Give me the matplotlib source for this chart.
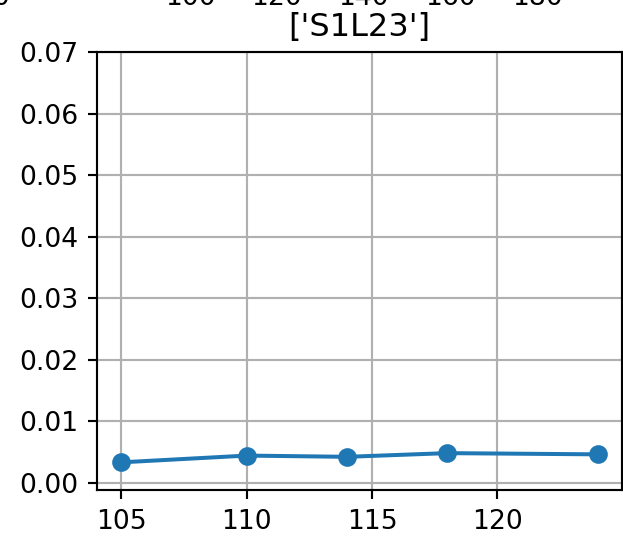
import matplotlib
matplotlib.use('Agg')
import matplotlib.pyplot as plt

# values
x_vals = [105, 110, 114, 118, 124]
y_vals = [0.0033, 0.0044, 0.0042, 0.0048, 0.0046]
title = "['S1L23']"

# cut-off tick labels of the neighbouring subplot above
top_ticks = [100, 120, 140, 160, 180]

dpi = 192
fig = plt.figure(figsize=(623 / dpi, 537 / dpi), dpi=dpi)

ax = fig.add_axes([0.1562, 0.0875, 0.8417, 0.8151])
ax.plot(x_vals, y_vals, marker='o')
ax.set_title(title)
ax.set_ylim(-0.0012, 0.07)
ax.set_xticks([105, 110, 115, 120])
ax.set_yticks([0.0, 0.01, 0.02, 0.03, 0.04, 0.05, 0.06, 0.07])
ax.grid(True)

# upper subplot, mostly outside the canvas
ax_top = fig.add_axes([0.0, 1.063, 1.0, 0.3])
ax_top.set_xlim(56.2, 199.8)
ax_top.set_xticks(top_ticks)
ax_top.set_yticks([])
for s in ax_top.spines.values():
    s.set_visible(False)
fig.text(-0.012, 0.9907, '0', fontsize=10, va='baseline')

fig.savefig('out.png', dpi=dpi)
